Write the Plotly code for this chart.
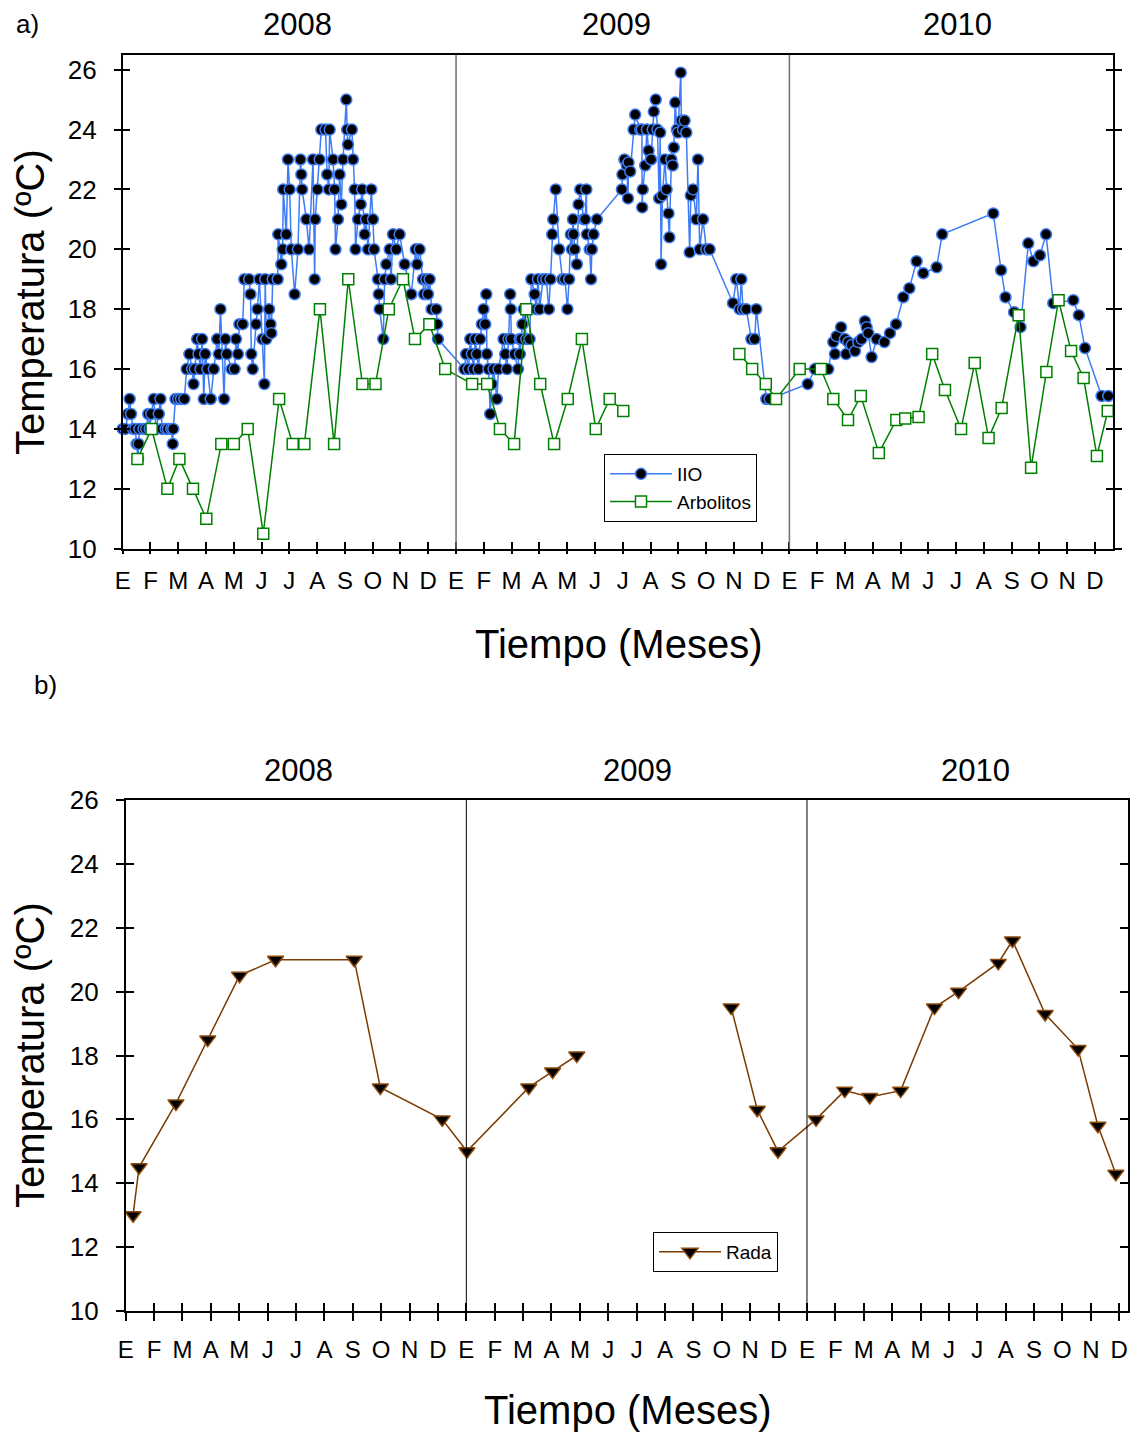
import plotly.graph_objects as go

# ---------------- data (x = months since 1 Jan 2008) ----------------
month_letters = ["E", "F", "M", "A", "M", "J", "J", "A", "S", "O", "N", "D"]
years = ["2008", "2009", "2010"]

iio_month = [
    0.00, 0.10, 0.19, 0.25, 0.30, 0.37, 0.45, 0.50, 0.55, 0.57, 0.60, 0.75, 0.85, 0.92, 0.97,
    1.03, 1.12, 1.20, 1.30, 1.36, 1.42, 1.55, 1.63, 1.75, 1.80, 1.82, 1.90, 2.00, 2.10, 2.22,
    2.30, 2.40, 2.50, 2.55, 2.60, 2.68, 2.73, 2.80, 2.86, 2.92, 2.97, 3.05, 3.17, 3.28, 3.40,
    3.46, 3.52, 3.65, 3.70, 3.75, 3.92, 4.03, 4.08, 4.15, 4.20, 4.32, 4.38, 4.55, 4.60, 4.63,
    4.68, 4.80, 4.85, 4.92, 5.03, 5.10, 5.13, 5.17, 5.27, 5.32, 5.35, 5.40, 5.58, 5.60, 5.71,
    5.76, 5.78, 5.89, 5.95, 6.01, 6.07, 6.19, 6.31, 6.40, 6.43, 6.46, 6.61, 6.71, 6.85, 6.91,
    6.93, 7.01, 7.09, 7.15, 7.30, 7.36, 7.42, 7.45, 7.57, 7.63, 7.66, 7.75, 7.81, 7.87, 7.93,
    8.05, 8.08, 8.11, 8.25, 8.29, 8.35, 8.38, 8.47, 8.57, 8.62, 8.71, 8.76, 8.83, 8.95, 9.01,
    9.05, 9.19, 9.22, 9.25, 9.38, 9.43, 9.49, 9.61, 9.66, 9.73, 9.85, 9.97, 10.15, 10.39, 10.55,
    10.60, 10.69, 10.81, 10.85, 10.93, 10.99, 11.05, 11.12, 11.29, 11.32, 11.35,
    # 2009
    12.30, 12.36, 12.45, 12.51, 12.57, 12.63, 12.69, 12.75, 12.81, 12.87, 12.93, 12.99, 13.05,
    13.09, 13.11, 13.17, 13.23, 13.29, 13.35, 13.47, 13.53, 13.71, 13.77, 13.83, 13.89, 13.95,
    13.97, 13.99, 14.11, 14.23, 14.29, 14.30, 14.35, 14.39, 14.43, 14.53, 14.65, 14.71, 14.83,
    14.89, 14.95, 15.01, 15.13, 15.25, 15.34, 15.40, 15.46, 15.50, 15.59, 15.71, 15.83, 15.92,
    16.01, 16.07, 16.13, 16.17, 16.21, 16.23, 16.27, 16.35, 16.41, 16.47, 16.59, 16.65, 16.69,
    16.71, 16.81, 16.86, 16.89, 16.95, 17.07,
    17.97, 17.99, 18.06, 18.15, 18.19, 18.21, 18.27, 18.39, 18.45, 18.63, 18.69, 18.70, 18.72,
    18.81, 18.87, 18.93, 19.02, 19.08, 19.12, 19.19, 19.25, 19.31, 19.35, 19.38, 19.43, 19.52,
    19.58, 19.65, 19.68, 19.75, 19.80, 19.84, 19.89, 19.95, 19.99, 20.09, 20.11, 20.17, 20.23,
    20.29, 20.41, 20.45, 20.53, 20.65, 20.71, 20.77, 20.89, 21.01, 21.13,
    21.97, 22.09, 22.21, 22.27, 22.33, 22.45, 22.63, 22.75, 22.81, 23.17, 23.29,
    # 2010
    24.66, 24.92, 25.40, 25.58, 25.64, 25.70, 25.86, 26.00, 26.04, 26.12, 26.24, 26.36, 26.48,
    26.60, 26.72, 26.78, 26.84, 26.96, 27.14, 27.42, 27.62, 27.84, 28.10, 28.32, 28.58, 28.82,
    29.30, 29.50, 31.34, 31.62, 31.78, 32.09, 32.32, 32.60, 32.78, 33.02, 33.24, 33.50, 34.22,
    34.42, 34.64, 35.24, 35.48,
]
iio_temp = [
    14.0, 14.0, 14.5, 15.0, 14.5, 14.0, 14.0, 13.5, 13.0, 13.5, 14.0, 14.0, 14.0, 14.5, 14.0,
    14.5, 15.0, 14.0, 14.5, 15.0, 14.0, 14.0, 14.0, 14.0, 13.5, 14.0, 15.0, 15.0, 15.0, 15.0,
    16.0, 16.5, 16.0, 15.5, 16.0, 17.0, 16.5, 16.0, 17.0, 15.0, 16.5, 16.0, 15.0, 16.0, 17.0,
    16.5, 18.0, 15.0, 17.0, 16.5, 16.0, 16.0, 17.0, 16.5, 17.5, 17.5, 19.0, 19.0, 18.5, 16.5,
    16.0, 17.5, 18.0, 19.0, 17.0, 15.5, 19.0, 17.0, 18.0, 17.5, 17.2, 19.0, 19.0, 20.5, 19.5,
    20.0, 22.0, 20.5, 23.0, 22.0, 20.0, 18.5, 20.0, 23.0, 22.5, 22.0, 21.0, 20.0, 23.0, 19.0,
    21.0, 22.0, 23.0, 24.0, 24.0, 22.5, 22.0, 24.0, 23.0, 22.0, 20.0, 21.0, 22.5, 21.5, 23.0,
    25.0, 24.0, 23.5, 24.0, 23.0, 22.0, 20.0, 21.0, 21.5, 22.0, 20.5, 21.0, 20.0, 22.0, 21.0,
    20.0, 19.0, 18.5, 18.0, 17.0, 19.0, 19.5, 20.0, 19.0, 20.5, 20.0, 20.5, 19.5, 18.5, 20.0,
    19.5, 20.0, 19.0, 18.5, 19.0, 18.5, 19.0, 18.0, 18.0, 17.5, 17.0,
    # 2009
    16.0, 16.5, 16.0, 17.0, 16.5, 16.0, 17.0, 16.5, 16.0, 17.0, 17.5, 18.0, 17.5,
    18.5, 16.5, 16.0, 14.5, 15.5, 16.0, 15.0, 16.0, 17.0, 16.5, 16.0, 17.0, 18.5,
    18.0, 17.0, 16.5, 16.0, 17.0, 16.5, 17.0, 17.5, 18.0, 17.0, 17.0, 19.0, 18.5,
    18.0, 19.0, 18.0, 19.0, 19.0, 18.0, 19.0, 20.5, 21.0, 22.0, 20.0, 19.0, 19.0,
    18.0, 19.0, 20.5, 20.0, 21.0, 20.5, 20.0, 19.5, 21.5, 22.0, 21.0, 21.0, 22.0,
    20.5, 20.0, 19.0, 20.0, 20.5, 21.0, 22.0,
    22.5, 23.0, 22.8, 21.7, 22.9, 22.6, 24.0, 24.5, 24.0, 24.0, 21.4, 22.0, 22.8,
    24.0, 23.3, 23.0, 24.0, 24.6, 25.0, 24.0, 21.7, 23.9, 19.5, 21.8, 23.0, 22.0,
    21.2, 20.4, 23.0, 22.8, 23.4, 24.9, 24.0, 23.9, 25.9, 24.3, 24.0, 24.3, 23.9,
    19.9, 21.8, 22.0, 21.0, 23.0, 20.0, 21.0, 20.0, 20.0,
    18.2, 19.0, 18.0, 19.0, 18.0, 18.0, 17.0, 17.0, 18.0, 15.0, 15.0,
    # 2010
    15.5, 16.0, 16.0, 16.9, 16.5, 17.1, 17.4, 17.0, 16.5, 16.9, 16.8, 16.6, 16.9,
    17.0, 17.6, 17.4, 17.2, 16.4, 17.0, 16.9, 17.2, 17.5, 18.4, 18.7, 19.6, 19.2,
    19.4, 20.5, 21.2, 19.3, 18.4, 17.9, 17.4, 20.2, 19.6, 19.8, 20.5, 18.2, 18.3,
    17.8, 16.7, 15.1, 15.1,
]

arb_month = [
    0.53, 1.04, 1.61, 2.04, 2.53, 3.01, 3.55, 4.00, 4.50, 5.06, 5.63, 6.12, 6.54, 7.10, 7.61,
    8.12, 8.63, 9.10, 9.58, 10.09, 10.52, 11.04, 11.61, 12.58, 13.12, 13.58, 14.09, 14.53,
    15.03, 15.53, 16.02, 16.53, 17.03, 17.53, 18.02,
    None,
    22.20, 22.66, 23.15, 23.52, 24.37, 25.13, 25.58, 26.11, 26.57, 27.22, 27.85, 28.17, 28.65,
    29.14, 29.60, 30.18, 30.67, 31.17, 31.64, 32.25, 32.70, 33.25, 33.69, 34.14, 34.59, 35.07,
    35.46,
]
arb_temp = [
    13.0, 14.0, 12.0, 13.0, 12.0, 11.0, 13.5, 13.5, 14.0, 10.5, 15.0, 13.5, 13.5, 18.0, 13.5,
    19.0, 15.5, 15.5, 18.0, 19.0, 17.0, 17.5, 16.0, 15.5, 15.5, 14.0, 13.5, 18.0,
    15.5, 13.5, 15.0, 17.0, 14.0, 15.0, 14.6,
    None,
    16.5, 16.0, 15.5, 15.0, 16.0, 16.0, 15.0, 14.3, 15.1, 13.2, 14.3, 14.35, 14.4,
    16.5, 15.3, 14.0, 16.2, 13.7, 14.7, 17.8, 12.7, 15.9, 18.3, 16.6, 15.7, 13.1,
    14.6,
]

rada_month = [
    0.26, 0.47, 1.77, 2.89, 4.01, 5.28, 8.05, 8.97, 11.15, 12.02, 14.20, 15.04, 15.89,
    None,
    21.33, 22.25, 22.98, 24.32, 25.33, 26.21, 27.30, 28.49, 29.34, 30.74, 31.24, 32.39,
    33.55, 34.25, 34.88,
]
rada_temp = [
    13.0, 14.5, 16.5, 18.5, 20.5, 21.0, 21.0, 17.0, 16.0, 15.0, 17.0, 17.5, 18.0,
    None,
    19.5, 16.3, 15.0, 16.0, 16.9, 16.7, 16.9, 19.5, 20.0, 20.9, 21.6, 19.3,
    18.2, 15.8, 14.3,
]

y_ticks = [10, 12, 14, 16, 18, 20, 22, 24, 26]

# ---------------- figure ----------------
W, H = 1130, 1432
FONT = "Liberation Sans, Arial, sans-serif"
tickvals = list(range(36))
ticktext = month_letters * 3


def px(x):
    return x / W


def py(y):
    return 1 - y / H


fig = go.Figure()

fig.add_trace(go.Scatter(
    x=iio_month, y=iio_temp, name="IIO", mode="lines+markers",
    line=dict(color="#3d7cf5", width=1.5),
    marker=dict(symbol="circle", size=11, color="black", line=dict(color="#3d7cf5", width=1.5)),
    xaxis="x", yaxis="y", cliponaxis=False, legend="legend",
))
fig.add_trace(go.Scatter(
    x=arb_month, y=arb_temp, name="Arbolitos", mode="lines+markers",
    line=dict(color="#008000", width=1.5), connectgaps=False,
    marker=dict(symbol="square", size=11, color="white", line=dict(color="#008000", width=1.5)),
    xaxis="x", yaxis="y", cliponaxis=False, legend="legend",
))
fig.add_trace(go.Scatter(
    x=rada_month, y=rada_temp, name="Rada", mode="lines+markers",
    line=dict(color="#7a3c00", width=1.5), connectgaps=False,
    marker=dict(symbol="triangle-down", size=14, color="black", line=dict(color="#8b4a0c", width=1.5)),
    xaxis="x2", yaxis="y2", cliponaxis=False, legend="legend2",
))
# empty traces for overlay axes (inside ticks -> crossing ticks)
for xa, ya in (("x3", "y3"), ("x4", "y4")):
    fig.add_trace(go.Scatter(x=[None], y=[None], xaxis=xa, yaxis=ya, showlegend=False,
                             hoverinfo="skip", mode="markers"))

top_xr = [0, 35.66]
top_yr = [10, 26.5]
bot_xr = [0, 35.32]
bot_yr = [10, 26]

dom_top_x = [px(122.7), px(1113.3)]
dom_top_y = [py(548.7), py(54.7)]
dom_bot_x = [px(125.7), px(1128.3)]
dom_bot_y = [py(1311), py(800)]

common_x = dict(tickvals=tickvals, ticktext=ticktext, showgrid=False, zeroline=False, automargin=False,
                tickcolor="black", tickwidth=1.5, tickfont=dict(family=FONT, size=24, color="black"))
common_y = dict(tickvals=y_ticks, showgrid=False, zeroline=False, automargin=False,
                tickcolor="black", tickwidth=1.5, tickfont=dict(family=FONT, size=26, color="black"))


def nofont(d):
    return {k: v for k, v in d.items() if k != "tickfont"}


fig.update_layout(
    template="none",
    width=W, height=H, margin=dict(l=0, r=0, t=0, b=0, autoexpand=False),
    paper_bgcolor="white", plot_bgcolor="white",
    font=dict(family=FONT, color="black"),
    xaxis=dict(domain=dom_top_x, range=top_xr, anchor="y", ticks="outside", ticklen=4,
               showline=True, linecolor="black", linewidth=1.5, mirror=True,
               ticklabelstandoff=6, **common_x),
    yaxis=dict(domain=dom_top_y, range=top_yr, anchor="x", ticks="outside", ticklen=7,
               showline=True, linecolor="black", linewidth=1.5, mirror="ticks",
               ticklabelstandoff=12, **common_y),
    xaxis3=dict(overlaying="x", range=top_xr, anchor="y", ticks="inside", ticklen=7,
                showticklabels=False, showline=False, **nofont(common_x)),
    yaxis3=dict(overlaying="y", range=top_yr, anchor="x", ticks="inside", ticklen=7, mirror="ticks",
                showticklabels=False, showline=False, **nofont(common_y)),
    xaxis2=dict(domain=dom_bot_x, range=bot_xr, anchor="y2", ticks="outside", ticklen=8,
                showline=True, linecolor="black", linewidth=1.5, mirror=True,
                ticklabelstandoff=8, **common_x),
    yaxis2=dict(domain=dom_bot_y, range=bot_yr, anchor="x2", ticks="outside", ticklen=8,
                showline=True, linecolor="black", linewidth=1.5, mirror="ticks",
                ticklabelstandoff=12, **common_y),
    xaxis4=dict(overlaying="x2", range=bot_xr, anchor="y2", ticks="inside", ticklen=8,
                showticklabels=False, showline=False, **nofont(common_x)),
    yaxis4=dict(overlaying="y2", range=bot_yr, anchor="x2", ticks="inside", ticklen=8, mirror="ticks",
                showticklabels=False, showline=False, **nofont(common_y)),
    legend=dict(x=px(604), y=py(454), xanchor="left", yanchor="top", bgcolor="white",
                bordercolor="black", borderwidth=1, font=dict(family=FONT, size=19, color="black"),
                itemwidth=62, traceorder="normal"),
    legend2=dict(x=px(653), y=py(1232), xanchor="left", yanchor="top", bgcolor="white",
                 bordercolor="black", borderwidth=1, font=dict(family=FONT, size=19, color="black"),
                 itemwidth=62),
)

# year separators
for m in (12, 24):
    fig.add_shape(type="line", xref="x", yref="y domain", x0=m, x1=m, y0=0, y1=1,
                  line=dict(color="#6e6e6e", width=1.5), layer="above")
    fig.add_shape(type="line", xref="x2", yref="y2 domain", x0=m, x1=m, y0=0, y1=1,
                  line=dict(color="black", width=1), layer="above")


def label(text, x, y, size, angle=0):
    return dict(text=text, x=px(x), y=py(y), xref="paper", yref="paper", showarrow=False,
                xanchor="center", yanchor="middle", textangle=angle,
                font=dict(size=size, family=FONT, color="black"))


ann = []
for t, xp in zip(years, (297, 616, 957)):
    ann.append(label(t, xp, 24, 31))
for t, xp in zip(years, (298, 637, 975)):
    ann.append(label(t, xp, 770, 31))
ann.append(label("a)", 27, 24, 26))
ann.append(label("b)", 45, 685, 26))
ann.append(label("Tiempo (Meses)", 618, 644, 40))
ann.append(label("Tiempo (Meses)", 627, 1410, 40))
ann.append(label("Temperatura (ºC)", 30, 302, 40, -90))
ann.append(label("Temperatura (ºC)", 30, 1055, 40, -90))
fig.update_layout(annotations=ann)

fig.write_html("out.html")
